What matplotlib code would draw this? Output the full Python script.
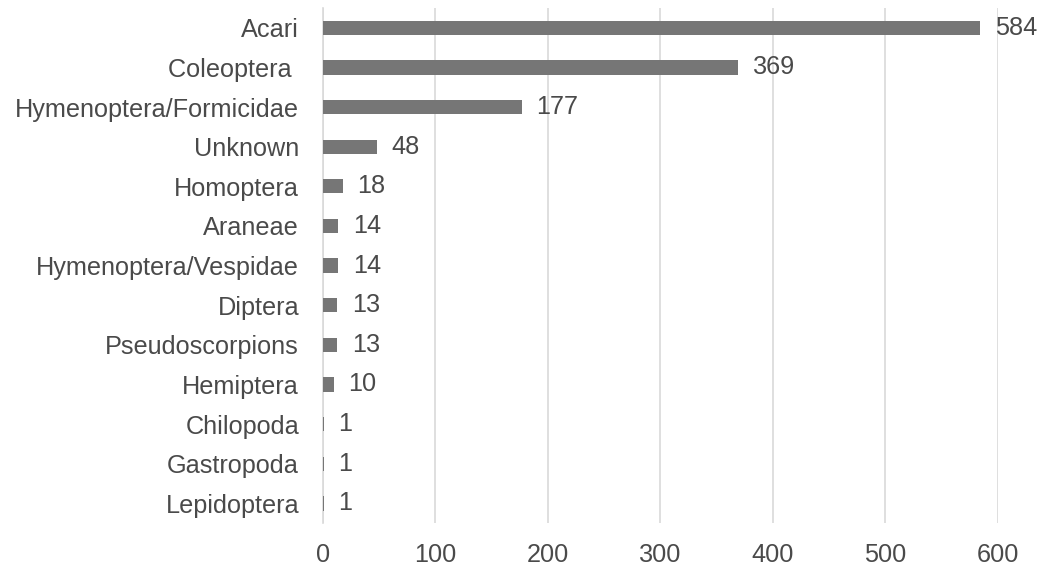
import matplotlib
matplotlib.use("Agg")
import matplotlib.pyplot as plt

categories = ["Acari", "Coleoptera ", "Hymenoptera/Formicidae", "Unknown", "Homoptera",
              "Araneae", "Hymenoptera/Vespidae", "Diptera", "Pseudoscorpions",
              "Hemiptera", "Chilopoda", "Gastropoda", "Lepidoptera"]
counts = [584, 369, 177, 48, 18, 14, 14, 13, 13, 10, 1, 1, 1]
x_ticks = [0, 100, 200, 300, 400, 500, 600]

plt.rcParams["font.family"] = ["Liberation Sans", "DejaVu Sans"]
text_color = "#4a4a4a"
bar_color = "#767676"
grid_color = "#d9d9d9"
fs = 18.2

fig = plt.figure(figsize=(10.41, 5.65), dpi=100)
ax = fig.add_axes([0.310, 0.074, 0.6487, 0.912])

y = list(range(len(categories)))
ax.barh(y, counts, height=0.36, color=bar_color, zorder=3)
for yi, v in zip(y, counts):
    ax.annotate(str(v), xy=(v, yi), xytext=(10.5, 0), textcoords="offset points",
                va="center", ha="left", fontsize=fs, color=text_color)

ax.set_yticks(y)
ax.set_yticklabels(categories)
ax.set_ylim(len(categories) - 0.5, -0.5)
ax.set_xlim(0, 600)
ax.set_xticks(x_ticks)
ax.set_xticklabels([str(t) for t in x_ticks])

ax.tick_params(axis="both", length=0, labelsize=fs, labelcolor=text_color)
ax.tick_params(axis="x", pad=14)
ax.tick_params(axis="y", pad=17)
ax.grid(axis="x", color=grid_color, linewidth=1.2, zorder=0)
for s in ["top", "right", "bottom"]:
    ax.spines[s].set_visible(False)
ax.spines["left"].set_color(grid_color)
ax.spines["left"].set_linewidth(1.2)

fig.savefig("out.png", dpi=100)
